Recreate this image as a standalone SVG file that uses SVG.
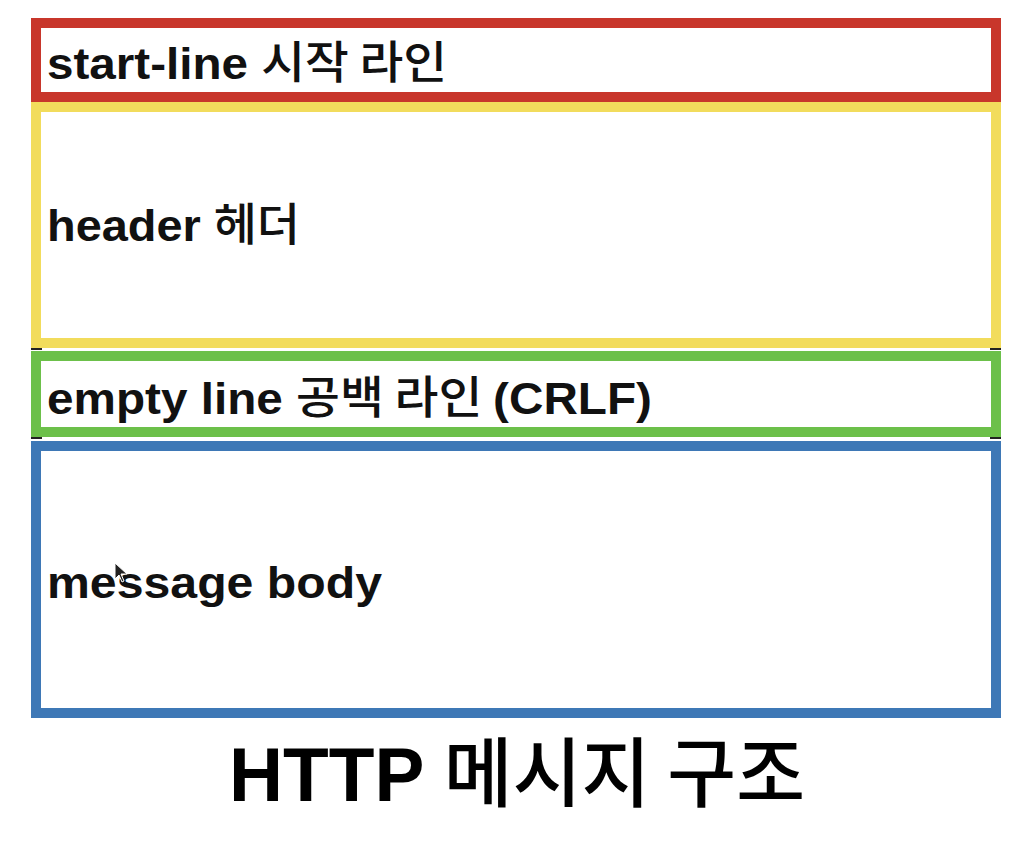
<svg xmlns="http://www.w3.org/2000/svg" width="1018" height="846" viewBox="0 0 1018 846">
  <style>
    .box { fill: #ffffff; stroke-width: 10; }
    .lbl { font-family: "Liberation Sans", "Noto Sans CJK KR", sans-serif; font-size: 45px; fill: #111111; }
    .lat { font-weight: bold; }
    .ko { font-family: "Noto Sans CJK KR", sans-serif; font-weight: 500; }
    .title { font-family: "Liberation Sans", "Noto Sans CJK KR", sans-serif; font-size: 76px; fill: #000000; }
    .sep { stroke: #222222; stroke-width: 2; }
  </style>
  <rect x="0" y="0" width="1018" height="846" fill="#ffffff"/>
  <g id="connectors">
    <line class="sep" x1="31" y1="349" x2="42" y2="349"/>
    <line class="sep" x1="990" y1="349" x2="1001" y2="349"/>
    <line class="sep" x1="31" y1="438" x2="42" y2="438"/>
    <line class="sep" x1="990" y1="438" x2="1001" y2="438"/>
  </g>
  <g id="start-line">
    <rect class="box" x="36" y="23" width="960" height="74" stroke="#c8362b"/>
    <text class="lbl" x="47" y="79" textLength="400" lengthAdjust="spacingAndGlyphs"><tspan class="lat">start-line </tspan><tspan class="ko">시작 라인</tspan></text>
  </g>
  <g id="header">
    <rect class="box" x="36" y="107" width="960" height="236" stroke="#f2dc5c"/>
    <text class="lbl" x="47" y="241" textLength="253" lengthAdjust="spacingAndGlyphs"><tspan class="lat">header </tspan><tspan class="ko">헤더</tspan></text>
  </g>
  <g id="empty-line">
    <rect class="box" x="36" y="356" width="960" height="76" stroke="#6cc04a"/>
    <text class="lbl" x="47" y="414" textLength="605" lengthAdjust="spacingAndGlyphs"><tspan class="lat">empty line </tspan><tspan class="ko">공백 라인 </tspan><tspan class="lat">(CRLF)</tspan></text>
  </g>
  <g id="message-body">
    <rect class="box" x="36" y="446" width="960" height="267" stroke="#3e78b6"/>
    <text class="lbl" x="47" y="598" textLength="335" lengthAdjust="spacingAndGlyphs"><tspan class="lat">message body</tspan></text>
    <path d="M115,563 L115,579 L119,575 L122,582 L124,581 L121,574 L127,574 Z" fill="#222222" stroke="#ffffff" stroke-width="1"/>
  </g>
  <g id="title">
    <text class="title" x="229" y="801" textLength="576" lengthAdjust="spacingAndGlyphs"><tspan class="lat">HTTP </tspan><tspan class="ko">메시지 구조</tspan></text>
  </g>
</svg>
